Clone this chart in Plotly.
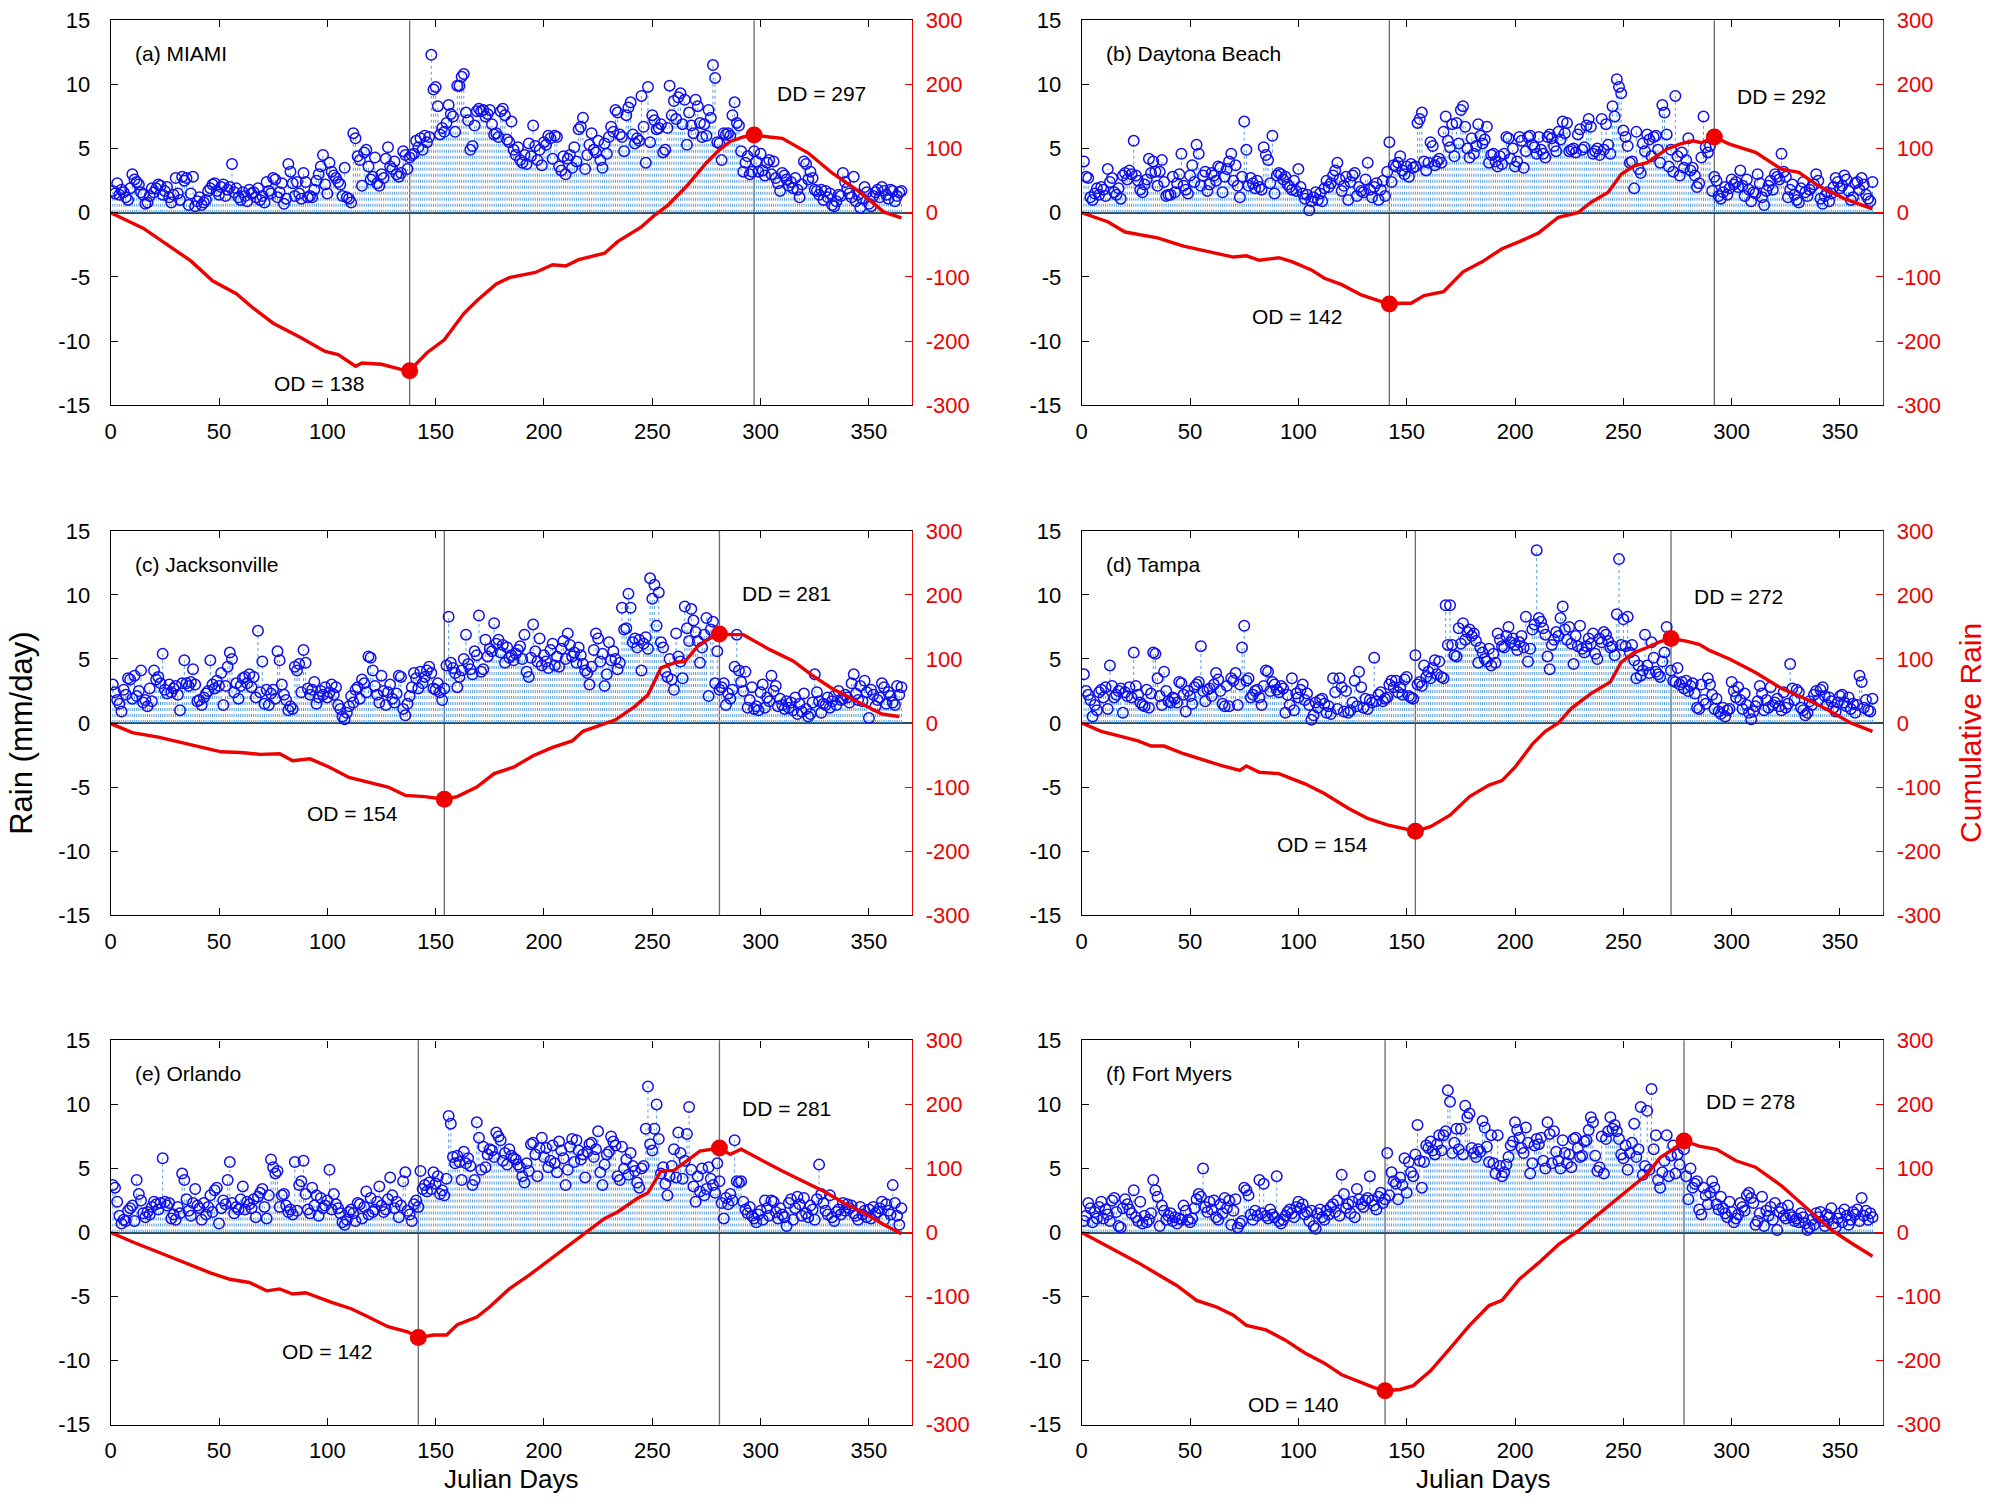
import plotly.graph_objects as go
from plotly.subplots import make_subplots

# ---------------- DATA ----------------
CITIES = ["(a) MIAMI", "(b) Daytona Beach", "(c) Jacksonville",
          "(d) Tampa", "(e) Orlando", "(f) Fort Myers"]

OD_DAYS = [138, 142, 154, 154, 142, 140]
DD_DAYS = [297, 292, 281, 272, 281, 278]
OD_CUM = [-246, -142, -119, -169, -164, -247]
DD_CUM = [121, 118, 139, 132, 132, 143]

RAIN_MIAMI = [
    1.7, 1.5, 2.3, 1.4, 1.8, 1.6, 1.2, 1.0, 1.9, 3.0, 2.6, 2.4, 2.2, 1.6, 1.4, 0.7, 0.8, 1.3, 1.9, 1.6,
    1.9, 2.2, 2.1, 1.4, 1.7, 2.0, 1.2, 0.8, 1.4, 2.7, 1.5, 1.0, 2.8, 2.5, 2.7, 0.6, 1.5, 2.8, 0.5, 0.9,
    1.2, 0.6, 0.8, 1.0, 1.7, 1.9, 2.2, 2.3, 1.7, 1.4, 2.0, 2.2, 1.3, 1.8, 2.0, 3.8, 1.6, 1.9, 1.2, 1.0,
    1.6, 1.3, 0.9, 1.8, 1.5, 1.6, 1.2, 1.9, 1.0, 1.3, 0.8, 2.4, 1.7, 1.5, 2.7, 2.6, 1.2, 1.6, 2.3, 0.7,
    1.1, 3.8, 3.2, 2.3, 1.3, 2.4, 1.5, 1.1, 3.1, 2.4, 1.2, 1.3, 1.2, 1.8, 2.5, 3.0, 3.6, 4.5, 2.2, 1.5,
    3.9, 3.2, 2.9, 2.7, 2.4, 2.2, 1.3, 3.5, 1.2, 1.1, 0.8, 6.2, 5.8, 4.4, 4.1, 2.1, 4.7, 4.9, 3.6, 2.6,
    2.8, 4.3, 2.3, 2.1, 3.0, 2.7, 4.2, 5.1, 3.6, 3.4, 4.0, 3.0, 2.8, 3.1, 4.8, 4.5, 3.4, 4.3, 4.5, 4.6,
    5.6, 5.1, 5.8, 4.9, 6.0, 5.5, 5.9, 12.3, 9.6, 9.8, 8.3, 6.1, 6.6, 6.3, 7.0, 8.4, 7.7, 7.5, 6.3, 9.9,
    9.9, 10.6, 10.8, 7.8, 7.2, 4.9, 5.2, 6.8, 7.9, 8.1, 7.9, 8.0, 7.5, 7.7, 8.0, 6.9, 6.1, 6.2, 5.9, 7.9,
    8.1, 7.6, 5.7, 5.5, 7.1, 4.9, 4.5, 5.1, 4.1, 3.9, 4.5, 3.8, 5.4, 4.4, 6.8, 5.2, 4.1, 4.9, 3.7, 5.5,
    5.3, 6.0, 5.8, 4.2, 6.0, 5.9, 3.6, 3.3, 4.4, 3.0, 4.2, 4.5, 3.5, 5.1, 4.0, 6.5, 6.7, 7.4, 3.4, 4.5,
    5.3, 6.2, 4.9, 4.7, 5.6, 4.1, 3.5, 5.4, 4.6, 5.9, 6.7, 6.3, 8.0, 7.8, 6.1, 5.9, 4.8, 7.6, 8.2, 8.6,
    6.1, 5.4, 5.8, 5.6, 9.1, 6.7, 3.9, 9.8, 5.5, 7.6, 7.2, 6.5, 6.6, 6.9, 4.7, 4.9, 6.6, 9.9, 7.6, 8.7,
    7.3, 9.0, 9.3, 6.9, 8.8, 5.3, 7.8, 6.8, 6.2, 8.8, 8.3, 7.0, 5.9, 6.9, 6.0, 8.0, 7.4, 11.5, 10.5, 5.5,
    5.4, 4.1, 6.2, 6.1, 6.2, 6.0, 7.6, 8.6, 7.0, 6.8, 4.8, 3.2, 3.9, 4.4, 3.0, 3.2, 4.8, 4.0, 3.2, 4.6,
    3.3, 2.9, 3.9, 4.1, 3.0, 4.0, 2.7, 2.3, 1.7, 3.1, 2.9, 2.6, 2.1, 2.4, 1.9, 2.7, 1.8, 1.2, 2.2, 4.0,
    3.8, 2.6, 3.2, 2.7, 1.8, 1.7, 1.4, 1.8, 1.0, 1.7, 1.2, 1.5, 0.6, 0.5, 0.9, 1.4, 1.3, 3.1, 2.4, 1.9,
    1.5, 1.2, 2.8, 0.9, 1.4, 0.4, 1.1, 2.0, 1.6, 0.7, 0.5, 1.3, 1.6, 1.8, 1.2, 2.0, 1.7, 1.4, 1.1, 1.8,
    1.7, 0.9, 1.3, 1.6, 1.7]

RAIN_DAYTONA = [
    4.0, 2.8, 2.7, 1.2, 1.0, 1.5, 1.9, 1.4, 2.0, 1.8, 1.3, 3.4, 2.4, 2.7, 1.6, 1.4, 1.9, 1.1, 2.9, 3.1,
    2.6, 3.3, 3.0, 5.6, 2.9, 2.5, 1.8, 1.6, 2.2, 2.6, 4.2, 3.1, 4.0, 3.2, 2.1, 3.2, 4.1, 2.4, 1.3, 1.4,
    1.4, 2.8, 1.6, 2.3, 3.0, 4.6, 2.1, 1.8, 1.5, 2.9, 3.7, 2.4, 5.3, 4.6, 2.1, 2.9, 3.2, 1.7, 2.2, 3.1,
    2.9, 2.5, 3.6, 3.5, 1.6, 2.8, 3.4, 4.0, 4.6, 2.5, 3.7, 2.1, 1.2, 2.8, 7.1, 4.9, 2.1, 2.7, 2.3, 1.9,
    2.5, 2.0, 1.8, 5.1, 4.5, 4.1, 2.3, 6.0, 1.5, 2.9, 3.1, 3.0, 2.6, 2.8, 2.2, 2.0, 1.8, 2.5, 1.7, 3.4,
    2.0, 1.5, 1.1, 1.4, 0.2, 0.9, 1.2, 1.6, 1.0, 1.5, 0.9, 1.9, 2.5, 2.0, 2.3, 2.9, 3.3, 3.9, 2.6, 1.7,
    2.1, 2.8, 1.0, 2.4, 2.9, 3.1, 1.3, 2.0, 1.7, 1.6, 2.6, 3.9, 1.8, 1.2, 2.0, 2.3, 1.0, 1.8, 2.5, 1.3,
    3.2, 5.5, 2.4, 3.7, 3.6, 3.9, 4.4, 3.3, 3.0, 3.6, 2.8, 3.8, 3.5, 3.6, 7.0, 7.3, 7.8, 4.0, 3.3, 3.9,
    5.5, 5.2, 3.7, 4.0, 4.2, 3.9, 6.3, 7.5, 5.6, 5.1, 6.9, 4.4, 7.0, 5.4, 8.0, 8.3, 6.7, 5.0, 4.3, 5.8,
    4.6, 5.2, 6.9, 6.0, 5.4, 5.7, 6.7, 3.9, 4.5, 4.6, 4.0, 3.6, 4.4, 3.8, 4.6, 5.9, 5.8, 4.2, 5.0, 3.6,
    4.0, 5.9, 5.6, 3.5, 4.8, 5.9, 6.0, 5.3, 5.1, 4.6, 5.9, 4.9, 4.6, 4.3, 5.9, 6.1, 5.8, 5.2, 4.8, 6.3,
    5.7, 7.1, 6.2, 7.0, 4.8, 4.9, 5.0, 4.7, 6.1, 6.5, 4.9, 5.1, 6.8, 7.3, 6.7, 4.6, 4.8, 5.0, 4.5, 7.3,
    4.9, 6.9, 5.3, 4.6, 8.3, 7.5, 10.4, 9.8, 9.3, 6.4, 5.9, 5.2, 3.9, 4.0, 1.9, 6.3, 3.4, 3.1, 5.4, 4.8,
    6.1, 5.7, 4.4, 5.9, 6.0, 4.9, 3.9, 8.4, 7.8, 6.1, 3.6, 4.9, 3.2, 9.1, 4.4, 2.9, 4.7, 3.5, 4.1, 5.8,
    3.3, 3.5, 2.9, 2.0, 2.3, 4.3, 7.5, 5.1, 4.7, 5.2, 1.7, 2.8, 2.5, 1.3, 1.1, 1.6, 2.0, 1.4, 1.9, 2.6,
    2.2, 2.4, 2.0, 3.3, 2.1, 1.3, 2.6, 1.8, 0.9, 1.6, 1.5, 3.0, 2.3, 1.2, 0.6, 1.7, 2.1, 2.5, 1.8, 3.0,
    2.8, 2.6, 4.6, 3.2, 2.8, 1.2, 1.8, 2.2, 1.4, 1.0, 0.8, 1.9, 2.4, 1.6, 1.3, 1.8, 2.0, 2.2, 3.0, 2.5,
    1.1, 0.7, 1.3, 1.6, 0.9, 1.5, 2.0, 2.7, 2.4, 1.9, 2.1, 2.9, 2.6, 1.7, 1.0, 1.2, 2.3, 2.4, 1.8, 2.7,
    2.2, 1.4, 1.1, 0.9, 2.4]

RAIN_JACKSONVILLE = [
    3.0, 2.4, 1.8, 1.5, 0.9, 2.6, 2.2, 3.5, 3.4, 1.9, 3.7, 2.1, 2.5, 4.1, 1.6, 1.8, 1.3, 2.7, 1.7, 4.1,
    3.4, 3.6, 3.1, 5.4, 2.6, 2.3, 3.0, 2.4, 2.7, 2.9, 2.2, 1.0, 3.1, 4.9, 3.1, 2.9, 3.2, 4.2, 3.0, 1.7,
    1.8, 1.4, 2.0, 2.3, 2.5, 4.9, 3.0, 2.7, 3.3, 2.9, 3.9, 1.4, 2.9, 4.4, 5.5, 5.0, 2.4, 3.1, 1.9, 2.9,
    3.5, 3.6, 3.1, 3.8, 2.8, 3.6, 2.0, 7.2, 2.4, 4.8, 1.5, 2.6, 1.4, 2.3, 2.6, 1.9, 5.6, 4.9, 3.0, 2.2,
    1.8, 1.0, 1.3, 1.1, 4.4, 4.1, 4.6, 2.4, 5.7, 4.7, 2.7, 2.2, 2.6, 3.2, 1.5, 2.0, 2.5, 2.2, 2.8, 2.0,
    2.4, 3.0, 2.2, 2.8, 1.4, 1.1, 0.5, 0.3, 0.8, 1.3, 2.1, 1.6, 2.6, 2.8, 1.9, 3.4, 3.1, 2.4, 5.2, 5.1,
    4.1, 2.9, 2.2, 1.6, 3.7, 2.5, 1.4, 2.4, 3.0, 1.9, 1.6, 2.3, 3.7, 3.6, 1.1, 0.6, 1.5, 2.1, 2.8, 3.9,
    3.5, 2.7, 4.0, 3.1, 3.6, 4.1, 4.4, 3.9, 2.7, 2.6, 3.1, 2.4, 1.8, 2.7, 4.5, 8.3, 4.7, 4.3, 3.9, 2.8,
    3.6, 4.1, 5.0, 6.9, 4.6, 4.2, 3.8, 5.6, 5.3, 8.4, 4.0, 4.2, 6.5, 5.2, 5.8, 5.6, 7.8, 6.2, 6.5, 5.5,
    6.1, 4.7, 5.9, 5.1, 5.3, 4.9, 5.4, 5.7, 6.0, 5.0, 6.9, 4.0, 3.6, 5.1, 7.7, 5.6, 4.8, 6.6, 4.5, 5.3,
    4.8, 4.3, 5.7, 6.2, 4.5, 5.2, 4.4, 5.8, 6.4, 5.0, 7.0, 6.1, 5.2, 5.5, 4.7, 5.9, 5.3, 4.6, 4.1, 3.9,
    3.0, 4.4, 5.7, 7.0, 6.6, 4.8, 5.4, 2.9, 3.8, 6.3, 4.9, 5.6, 5.0, 4.2, 4.7, 9.0, 7.3, 7.4, 10.1, 9.0,
    6.3, 6.6, 5.9, 6.5, 4.1, 6.2, 6.7, 5.8, 11.3, 9.7, 10.8, 7.6, 10.2, 6.3, 5.9, 4.0, 3.6, 5.0, 3.4, 2.6,
    7.0, 5.2, 4.8, 3.5, 9.1, 7.4, 6.4, 8.9, 8.0, 7.1, 6.4, 4.7, 5.9, 6.9, 8.2, 2.1, 7.3, 7.9, 3.1, 5.6,
    2.6, 2.8, 3.1, 1.4, 2.3, 1.9, 2.6, 4.4, 6.9, 4.1, 3.2, 2.5, 4.0, 1.2, 1.8, 2.8, 1.1, 1.3, 1.0, 2.4,
    3.0, 1.2, 2.0, 1.7, 3.7, 2.5, 2.9, 1.3, 1.9, 1.4, 1.1, 1.7, 1.2, 1.6, 1.0, 2.0, 0.7, 1.5, 0.9, 2.3,
    1.1, 0.5, 0.7, 1.6, 3.8, 2.4, 1.7, 0.8, 1.5, 1.4, 2.0, 1.2, 1.7, 2.1, 1.4, 2.5, 1.8, 1.9, 2.2, 2.0,
    1.6, 3.1, 3.8, 2.3, 1.8, 2.9, 1.7, 3.3, 2.4, 0.4, 2.6, 2.2, 1.3, 1.8, 2.0, 3.1, 2.8, 1.5, 2.4, 2.1,
    1.6, 1.4, 2.9, 2.2, 2.8]

RAIN_TAMPA = [
    3.8, 2.5, 2.2, 1.8, 0.5, 1.4, 1.0, 2.4, 2.6, 2.0, 2.8, 1.1, 4.5, 2.9, 2.0, 2.2, 2.5, 2.7, 0.8, 2.4,
    2.1, 2.8, 2.0, 5.5, 2.9, 2.2, 1.6, 1.4, 1.3, 2.6, 1.2, 2.3, 5.5, 5.4, 3.5, 2.1, 1.4, 4.0, 2.5, 1.7,
    1.6, 2.0, 1.9, 1.6, 3.2, 3.1, 2.2, 0.9, 2.5, 2.1, 1.5, 2.8, 3.0, 3.2, 6.0, 2.5, 1.7, 2.6, 2.7, 2.1,
    3.0, 3.9, 3.4, 2.5, 1.5, 1.3, 2.9, 1.3, 3.5, 3.3, 3.9, 1.4, 3.0, 5.9, 7.6, 3.3, 3.5, 2.0, 2.2, 2.5,
    2.6, 2.0, 1.4, 2.9, 4.1, 4.0, 2.5, 3.2, 3.0, 2.6, 2.4, 2.9, 2.7, 0.8, 2.2, 1.4, 3.5, 1.0, 2.3, 2.0,
    2.6, 3.0, 1.8, 2.3, 1.4, 0.25, 0.6, 1.6, 1.2, 1.8, 1.9, 1.5, 0.8, 1.3, 0.7, 3.5, 2.4, 1.1, 3.5, 2.8,
    0.9, 2.5, 0.8, 1.0, 1.6, 3.3, 1.3, 4.0, 2.8, 1.2, 1.9, 1.1, 1.8, 1.6, 5.1, 1.7, 2.2, 2.4, 1.7, 1.9,
    2.0, 3.0, 3.3, 2.8, 3.3, 2.4, 2.8, 2.2, 3.4, 3.6, 2.1, 2.0, 1.9, 5.3, 3.0, 3.2, 2.9, 4.5, 3.6, 4.0,
    3.5, 4.3, 4.9, 3.8, 4.8, 3.6, 3.5, 9.2, 6.1, 9.2, 6.1, 5.3, 5.2, 7.4, 6.2, 7.8, 6.5, 7.1, 7.3, 6.8,
    7.0, 6.4, 4.7, 5.9, 5.5, 5.0, 4.8, 5.8, 4.5, 5.4, 4.7, 7.0, 6.5, 6.0, 5.9, 6.8, 7.5, 6.3, 6.6, 6.1,
    5.7, 6.3, 6.8, 5.9, 8.3, 4.8, 5.8, 7.3, 7.7, 13.5, 8.2, 7.9, 7.4, 6.9, 5.2, 4.2, 6.1, 6.5, 7.1, 6.8,
    8.2, 9.1, 7.3, 6.5, 7.5, 6.2, 4.6, 6.8, 6.0, 7.6, 5.8, 5.5, 6.0, 6.6, 6.2, 7.0, 5.4, 5.0, 6.6, 6.3,
    7.1, 6.9, 6.4, 5.9, 6.0, 5.3, 8.5, 12.8, 6.1, 8.1, 6.0, 8.3, 5.5, 6.1, 4.9, 3.5, 4.5, 3.7, 4.1, 6.9,
    4.5, 3.9, 6.3, 5.1, 4.0, 3.8, 3.6, 4.8, 5.5, 7.5, 6.7, 4.1, 3.3, 3.2, 4.3, 3.0, 3.2, 2.7, 3.3, 2.5,
    2.9, 3.1, 2.3, 1.2, 1.1, 3.0, 1.8, 1.5, 3.5, 3.0, 2.2, 1.1, 1.9, 0.9, 0.7, 1.2, 0.5, 1.0, 1.1, 3.2,
    2.5, 2.0, 2.8, 1.8, 1.1, 2.3, 1.4, 0.8, 0.3, 0.9, 1.3, 1.7, 2.9, 2.3, 1.0, 1.8, 1.2, 2.8, 1.4, 1.6,
    1.9, 1.3, 1.0, 2.4, 1.2, 1.5, 4.6, 2.7, 1.8, 2.6, 2.4, 1.2, 1.0, 0.6, 0.8, 1.7, 1.4, 2.2, 2.5, 1.8,
    2.6, 2.8, 2.1, 1.4, 2.0, 1.7, 1.2, 0.9, 1.6, 2.1, 2.2, 1.6, 1.3, 2.0, 1.1, 1.5, 0.8, 1.4, 3.7, 3.2,
    1.2, 1.8, 1.0, 0.9, 1.9]

RAIN_ORLANDO = [
    3.7, 3.5, 2.4, 1.3, 0.7, 1.0, 0.9, 1.7, 1.9, 2.1, 0.9, 4.1, 3.0, 2.5, 1.5, 1.2, 1.6, 1.4, 2.0, 2.4,
    2.2, 1.8, 2.3, 5.8, 2.4, 2.1, 2.3, 1.1, 1.4, 1.0, 2.0, 1.5, 4.6, 4.1, 2.6, 1.7, 1.3, 2.3, 3.4, 2.1,
    1.9, 1.0, 2.3, 1.4, 2.0, 2.9, 1.6, 3.3, 3.5, 0.7, 1.9, 2.5, 2.2, 4.1, 5.5, 2.3, 1.5, 2.0, 1.8, 2.6,
    3.6, 1.8, 2.4, 2.2, 1.9, 2.6, 1.2, 2.8, 3.1, 3.4, 2.0, 1.1, 2.9, 5.7, 5.1, 4.6, 4.8, 2.0, 2.9, 3.0,
    2.1, 1.6, 1.8, 1.4, 5.5, 1.7, 3.7, 4.0, 5.6, 3.0, 1.8, 1.5, 3.5, 2.1, 2.9, 1.3, 2.7, 1.9, 2.1, 2.5,
    4.9, 1.8, 3.0, 2.2, 1.9, 1.5, 0.8, 0.6, 1.0, 1.6, 1.8, 1.5, 0.9, 2.3, 2.2, 1.1, 2.0, 3.2, 1.4, 2.7,
    1.6, 1.8, 2.4, 3.6, 2.1, 1.6, 1.8, 2.6, 4.3, 2.9, 1.9, 2.4, 1.2, 2.1, 4.0, 4.7, 1.7, 1.4, 0.9, 2.2,
    2.5, 2.0, 4.8, 3.4, 3.7, 3.2, 3.9, 3.4, 4.7, 3.8, 4.4, 3.0, 3.3, 2.9, 4.2, 9.1, 8.5, 5.9, 5.4, 6.0,
    5.5, 4.1, 6.3, 5.4, 5.8, 5.2, 3.7, 4.1, 8.6, 7.4, 4.9, 6.7, 5.1, 6.1, 6.5, 6.4, 5.9, 7.8, 7.5, 7.2,
    5.6, 6.2, 5.3, 6.5, 6.0, 5.8, 5.7, 5.3, 5.1, 4.4, 3.9, 5.4, 4.8, 6.9, 7.0, 6.1, 4.4, 6.6, 7.4, 5.9,
    6.6, 5.1, 5.6, 6.8, 5.4, 4.7, 7.1, 6.4, 5.8, 3.7, 4.9, 6.7, 7.3, 5.5, 7.2, 6.4, 5.7, 6.1, 4.3, 6.3,
    6.9, 7.0, 5.9, 6.5, 7.9, 4.7, 3.7, 5.3, 6.1, 6.3, 7.5, 7.1, 6.8, 4.4, 4.1, 6.7, 5.0, 5.7, 4.5, 6.2,
    5.2, 4.8, 3.9, 3.5, 5.0, 5.2, 8.1, 11.4, 6.9, 6.4, 8.1, 10.0, 7.3, 4.6, 5.1, 3.8, 2.9, 4.4, 5.2, 6.5,
    4.3, 7.8, 6.2, 4.2, 5.6, 7.7, 9.8, 4.9, 3.6, 2.4, 4.4, 3.2, 5.0, 2.9, 3.4, 5.1, 4.2, 3.7, 3.1, 5.4,
    4.0, 2.3, 1.1, 2.7, 2.2, 3.0, 2.5, 7.2, 4.0, 3.9, 4.0, 2.4, 1.8, 1.5, 2.0, 1.3, 1.1, 0.8, 1.4, 1.7,
    1.0, 2.5, 1.9, 1.3, 2.5, 2.4, 1.6, 1.1, 1.9, 1.4, 1.2, 0.5, 2.3, 2.6, 1.0, 1.9, 2.8, 2.2, 1.3, 2.7,
    1.5, 1.2, 2.1, 1.8, 1.0, 2.6, 5.3, 3.0, 2.3, 1.7, 1.4, 2.9, 1.2, 0.9, 1.6, 1.8, 1.4, 2.3, 1.7, 2.2,
    1.9, 2.1, 1.5, 1.3, 1.0, 2.0, 1.4, 1.7, 1.2, 1.8, 1.1, 2.0, 1.5, 1.6, 1.9, 2.4, 1.0, 2.2, 1.7, 1.4,
    3.7, 2.3, 1.3, 0.6, 1.9]

RAIN_FORTMYERS = [
    0.9, 1.3, 2.3, 1.9, 0.8, 1.6, 1.1, 2.0, 2.4, 1.1, 1.8, 1.4, 0.9, 2.5, 2.7, 1.6, 0.5, 0.4, 1.9, 2.6,
    2.2, 1.8, 1.5, 3.3, 1.2, 0.9, 2.4, 0.7, 1.3, 0.8, 1.0, 1.5, 4.1, 3.3, 2.8, 0.5, 2.1, 1.7, 1.0, 1.3,
    1.5, 0.9, 1.2, 0.7, 1.1, 1.0, 2.1, 1.7, 1.0, 0.8, 1.1, 1.9, 2.6, 3.0, 2.8, 5.0, 2.0, 1.6, 2.4, 1.8,
    2.5, 1.2, 1.0, 2.2, 1.5, 2.7, 1.9, 2.5, 0.6, 1.7, 2.6, 0.4, 0.7, 0.9, 3.5, 3.3, 2.9, 1.4, 1.0, 1.7,
    1.3, 4.1, 1.5, 3.8, 1.3, 1.1, 1.8, 1.4, 1.2, 4.4, 0.9, 0.7, 1.0, 1.3, 1.6, 1.8, 1.5, 1.2, 2.0, 2.4,
    1.9, 2.2, 1.4, 1.6, 0.9, 1.7, 0.5, 0.3, 1.5, 1.8, 1.2, 1.0, 1.7, 1.4, 2.0, 2.2, 1.6, 2.5, 1.3, 4.5,
    3.0, 1.9, 2.2, 1.5, 2.4, 1.2, 3.4, 2.6, 2.2, 2.0, 2.5, 2.7, 4.4, 2.5, 2.1, 1.8, 2.8, 3.1, 2.3, 2.6,
    6.2, 2.9, 4.7, 4.0, 3.8, 2.6, 4.3, 3.7, 5.8, 3.1, 5.5, 4.7, 4.4, 6.1, 8.4, 5.6, 3.5, 5.5, 6.8, 6.6,
    7.1, 6.4, 6.1, 6.9, 7.6, 6.4, 7.6, 7.9, 11.1, 10.2, 6.2, 7.0, 8.1, 6.5, 8.1, 6.1, 9.9, 9.0, 9.3, 6.6,
    6.2, 5.9, 6.5, 6.3, 8.7, 8.2, 6.7, 5.5, 7.6, 5.4, 4.6, 7.6, 5.2, 4.4, 4.7, 5.3, 5.9, 6.8, 7.1, 8.6,
    8.0, 7.4, 6.6, 6.2, 8.2, 7.0, 4.6, 5.4, 6.8, 7.3, 6.9, 7.4, 5.6, 5.0, 8.6, 7.7, 5.4, 7.9, 6.3, 5.6,
    5.0, 7.2, 6.2, 5.4, 6.1, 5.1, 7.3, 7.4, 6.6, 5.9, 6.0, 7.1, 7.2, 8.0, 9.0, 8.6, 6.0, 4.8, 5.1, 7.5,
    4.6, 7.3, 7.9, 9.0, 8.1, 8.4, 7.9, 7.3, 6.1, 5.8, 6.8, 4.9, 6.2, 7.0, 8.5, 5.9, 6.5, 9.8, 4.5, 5.2,
    9.5, 4.9, 11.2, 6.5, 7.6, 4.1, 3.5, 4.7, 5.6, 7.6, 4.4, 6.0, 6.8, 4.6, 6.1, 5.3, 7.2, 6.5, 4.4, 2.6,
    5.0, 3.5, 3.8, 4.0, 1.8, 1.4, 3.5, 2.9, 2.2, 3.1, 4.0, 3.5, 2.2, 1.8, 2.8, 1.9, 1.5, 1.2, 2.4, 1.6,
    0.8, 1.1, 1.4, 2.3, 2.0, 1.7, 2.9, 3.1, 2.7, 2.3, 0.6, 0.9, 1.5, 2.8, 0.5, 1.7, 1.3, 2.0, 1.0, 2.3,
    0.2, 1.6, 1.9, 1.3, 1.1, 2.1, 1.4, 1.2, 0.9, 1.1, 0.8, 1.5, 1.2, 0.7, 0.2, 0.4, 1.0, 0.6, 1.5, 1.2,
    1.6, 0.9, 0.5, 1.4, 1.2, 1.9, 0.7, 0.4, 1.1, 1.5, 0.8, 1.8, 1.3, 0.6, 1.0, 1.6, 1.4, 1.8, 0.9, 2.7,
    1.3, 1.7, 1.0, 1.5, 1.2]

# cumulative rain curves: (Julian day, value)
CUM_DAYS_MIAMI = [0, 15, 37, 47, 58, 66, 75, 87, 99, 105, 113, 116, 125, 134, 138, 146, 154, 163, 169,
                  178, 184, 196, 204, 210, 216, 228, 234, 241, 245, 251, 257, 266, 275, 281, 286, 292,
                  297, 304, 310, 322, 333, 345, 357, 365]
CUM_MIAMI = [0, -24, -75, -106, -126, -149, -172, -193, -216, -221, -239, -234, -236, -244, -246, -218,
             -198, -157, -137, -111, -101, -93, -81, -83, -73, -63, -45, -30, -22, -4, 11, 42, 78, 98,
             111, 118, 121, 118, 116, 93, 62, 34, 1, -8]

CUM_DAYS_DAYTONA = [0, 12, 20, 29, 35, 47, 59, 70, 76, 82, 91, 97, 106, 112, 120, 129, 138, 142, 147,
                    152, 158, 167, 176, 185, 194, 202, 211, 220, 229, 235, 243, 249, 255, 261, 270, 276,
                    282, 286, 292, 299, 311, 323, 331, 340, 352, 365]
CUM_DAYTONA = [0, -14, -30, -35, -39, -52, -61, -69, -67, -74, -70, -76, -89, -102, -112, -128, -138,
               -142, -141, -141, -129, -123, -92, -76, -56, -45, -31, -7, 0, 16, 32, 60, 73, 78, 99, 107,
               112, 109, 118, 107, 94, 68, 63, 42, 22, 6]

CUM_DAYS_JACKSONVILLE = [0, 10, 22, 34, 42, 51, 60, 69, 78, 84, 92, 101, 110, 119, 128, 136, 145, 154,
                         160, 169, 177, 186, 195, 204, 213, 218, 227, 233, 242, 248, 254, 261, 265, 271,
                         277, 281, 287, 292, 304, 315, 324, 333, 345, 356, 364]
CUM_JACKSONVILLE = [-1, -15, -22, -31, -38, -45, -46, -49, -48, -59, -56, -69, -85, -92, -100, -113,
                    -115, -119, -115, -100, -79, -69, -51, -38, -28, -13, -3, 5, 26, 44, 86, 95, 96,
                    120, 133, 139, 138, 138, 115, 97, 74, 54, 33, 14, 10]

CUM_DAYS_TAMPA = [0, 9, 18, 26, 32, 38, 47, 56, 65, 73, 76, 82, 91, 103, 112, 123, 132, 141, 148, 154,
                  161, 170, 179, 188, 194, 200, 208, 214, 220, 226, 235, 244, 249, 255, 261, 267, 272,
                  279, 285, 290, 299, 311, 323, 334, 343, 355, 365]
CUM_TAMPA = [0, -13, -21, -28, -36, -36, -48, -58, -67, -74, -67, -77, -79, -95, -110, -133, -149, -159,
             -164, -169, -162, -144, -115, -97, -90, -69, -33, -13, 0, 23, 46, 64, 95, 110, 118, 127,
             132, 128, 123, 113, 100, 79, 54, 38, 23, 0, -13]

CUM_DAYS_ORLANDO = [0, 11, 23, 34, 46, 55, 64, 72, 78, 84, 90, 102, 111, 119, 128, 137, 142, 149, 155,
                    160, 169, 175, 184, 193, 201, 210, 219, 228, 234, 243, 248, 254, 260, 266, 272, 281,
                    286, 291, 298, 310, 322, 330, 339, 348, 357, 365]
CUM_ORLANDO = [0, -16, -32, -47, -63, -73, -78, -91, -88, -96, -94, -109, -119, -132, -147, -155, -164,
               -160, -160, -144, -132, -116, -88, -67, -47, -24, -1, 22, 32, 53, 62, 96, 97, 112, 127,
               132, 122, 130, 117, 96, 76, 63, 45, 30, 12, -2]

CUM_DAYS_FORTMYERS = [0, 9, 18, 26, 35, 44, 53, 62, 70, 76, 85, 94, 103, 112, 120, 129, 135, 140, 147,
                      153, 161, 170, 179, 188, 194, 202, 211, 220, 229, 235, 244, 252, 261, 267, 273,
                      278, 285, 293, 302, 311, 323, 334, 346, 355, 365]
CUM_FORTMYERS = [0, -16, -32, -47, -65, -83, -106, -116, -129, -145, -152, -168, -188, -204, -222, -234,
                 -242, -247, -245, -239, -216, -181, -145, -114, -106, -73, -47, -19, 2, 19, 43, 66, 91,
                 117, 130, 143, 135, 130, 112, 102, 73, 40, 4, -16, -37]

RAIN = [RAIN_MIAMI, RAIN_DAYTONA, RAIN_JACKSONVILLE, RAIN_TAMPA, RAIN_ORLANDO, RAIN_FORTMYERS]
CUM_DAYS = [CUM_DAYS_MIAMI, CUM_DAYS_DAYTONA, CUM_DAYS_JACKSONVILLE, CUM_DAYS_TAMPA,
            CUM_DAYS_ORLANDO, CUM_DAYS_FORTMYERS]
CUM = [CUM_MIAMI, CUM_DAYTONA, CUM_JACKSONVILLE, CUM_TAMPA, CUM_ORLANDO, CUM_FORTMYERS]

X_TICKS = [0, 50, 100, 150, 200, 250, 300, 350]
Y_TICKS = [-15, -10, -5, 0, 5, 10, 15]
Y2_TICKS = [-300, -200, -100, 0, 100, 200, 300]

# ---------------- LAYOUT / STYLE ----------------
W, H = 1990, 1508
FONT = "Liberation Sans, Arial, Helvetica, sans-serif"
RED = "#ee0000"
BLUE = "#1010ee"
STEM = "#5a9ed6"

X_DOM = [[105 / W, 909 / W], [1079 / W, 1883 / W]]
Y_DOM = [[1 - 400 / H, 1 - 8.3 / H], [1 - 918.3 / H, 1 - 527.7 / H], [1 - 1436.5 / H, 1 - 1045.7 / H]]

# label positions in data units (day, left-axis value)
OD_LABEL_POS = [(96, -13.3), (99.5, -8.1), (111.5, -7.05), (111, -9.5), (100, -9.25), (97.5, -13.45)]
DD_LABEL_POS = [(328, 9.26), (323, 9.05), (312, 10.15), (303, 9.85), (312, 9.7), (308.5, 10.25)]


def tick_text(vals):
    return [str(v) for v in vals]   # plain hyphen-minus like the reference


fig = make_subplots(rows=3, cols=2,
                    specs=[[{"secondary_y": True}, {"secondary_y": True}]] * 3)

for i in range(6):
    r, c = i // 2 + 1, i % 2 + 1
    rain = RAIN[i]
    days = list(range(1, len(rain) + 1))
    sx, sy = [], []
    for d, v in zip(days, rain):
        sx += [d, d, None]
        sy += [0, v, None]
    fig.add_trace(go.Scatter(x=sx, y=sy, mode="lines",
                             line=dict(color=STEM, width=1, dash="dot"),
                             hoverinfo="skip", showlegend=False),
                  row=r, col=c, secondary_y=False)
    fig.add_trace(go.Scatter(x=days, y=rain, mode="markers",
                             marker=dict(symbol="circle-open", size=10.5, color=BLUE,
                                         line=dict(width=1.5, color=BLUE)),
                             showlegend=False),
                  row=r, col=c, secondary_y=False)
    fig.add_trace(go.Scatter(x=CUM_DAYS[i], y=CUM[i], mode="lines",
                             line=dict(color=RED, width=3.4), showlegend=False),
                  row=r, col=c, secondary_y=True)
    fig.add_trace(go.Scatter(x=[OD_DAYS[i], DD_DAYS[i]], y=[OD_CUM[i], DD_CUM[i]], mode="markers",
                             marker=dict(size=17, color=RED), showlegend=False),
                  row=r, col=c, secondary_y=True)

    for d in (OD_DAYS[i], DD_DAYS[i]):
        fig.add_vline(x=d, row=r, col=c, line=dict(color="#6a6a6a", width=1.3), layer="below")

    fig.add_annotation(x=10.5, y=12.4, text=CITIES[i], showarrow=False, xanchor="left",
                       yanchor="middle",
                       font=dict(size=21, color="black", family=FONT), row=r, col=c)
    fig.add_annotation(x=OD_LABEL_POS[i][0], y=OD_LABEL_POS[i][1], text=f"OD = {OD_DAYS[i]}",
                       showarrow=False, xanchor="center", yanchor="middle",
                       font=dict(size=21, color="black", family=FONT), row=r, col=c)
    fig.add_annotation(x=DD_LABEL_POS[i][0], y=DD_LABEL_POS[i][1], text=f"DD = {DD_DAYS[i]}",
                       showarrow=False, xanchor="center", yanchor="middle",
                       font=dict(size=21, color="black", family=FONT), row=r, col=c)

    fig.update_xaxes(domain=X_DOM[c - 1], range=[0, 370], tickvals=X_TICKS,
                     ticktext=tick_text(X_TICKS), ticks="inside",
                     ticklen=7, tickcolor="black", showline=True, linecolor="black", linewidth=1.3,
                     mirror="ticks", showgrid=False, zeroline=False, ticklabelstandoff=6,
                     tickfont=dict(size=22, color="black", family=FONT), row=r, col=c)
    fig.update_yaxes(domain=Y_DOM[r - 1], range=[-15, 15], tickvals=Y_TICKS,
                     ticktext=tick_text(Y_TICKS), ticks="inside",
                     ticklen=7, tickcolor="black", showline=True, linecolor="black", linewidth=1.3,
                     showgrid=False, zeroline=True, zerolinecolor="#2e4a5a", zerolinewidth=1.5,
                     ticklabelstandoff=15,
                     tickfont=dict(size=22, color="black", family=FONT),
                     row=r, col=c, secondary_y=False)
    fig.update_yaxes(domain=Y_DOM[r - 1], range=[-300, 300], tickvals=Y2_TICKS,
                     ticktext=tick_text(Y2_TICKS), ticks="inside",
                     ticklen=7, tickcolor=RED, showline=True, linecolor=RED, linewidth=1.3,
                     showgrid=False, zeroline=False, ticklabelstandoff=8,
                     tickfont=dict(size=22, color=RED, family=FONT),
                     row=r, col=c, secondary_y=True)

# axis titles
fig.add_annotation(x=16 / W, y=1 - 733 / H, xref="paper", yref="paper", text="Rain (mm/day)",
                   textangle=-90, showarrow=False, xanchor="center", yanchor="middle",
                   font=dict(size=31, color="black", family=FONT))
fig.add_annotation(x=1971 / W, y=1 - 733 / H, xref="paper", yref="paper", text="Cumulative Rain",
                   textangle=-90, showarrow=False, xanchor="center", yanchor="middle",
                   font=dict(size=30, color=RED, family=FONT))
for c in range(2):
    fig.add_annotation(x=(X_DOM[c][0] + X_DOM[c][1]) / 2, y=1 - 1492 / H, xref="paper", yref="paper",
                       text="Julian Days", showarrow=False, xanchor="center", yanchor="middle",
                       font=dict(size=26, color="black", family=FONT))

fig.update_layout(width=W, height=H, margin=dict(l=0, r=0, t=0, b=0),
                  paper_bgcolor="white", plot_bgcolor="white", showlegend=False,
                  font=dict(family=FONT))

fig.write_html("out.html", config={"displayModeBar": False},
               post_script="document.body.style.margin='0px';document.body.style.padding='0px';")
